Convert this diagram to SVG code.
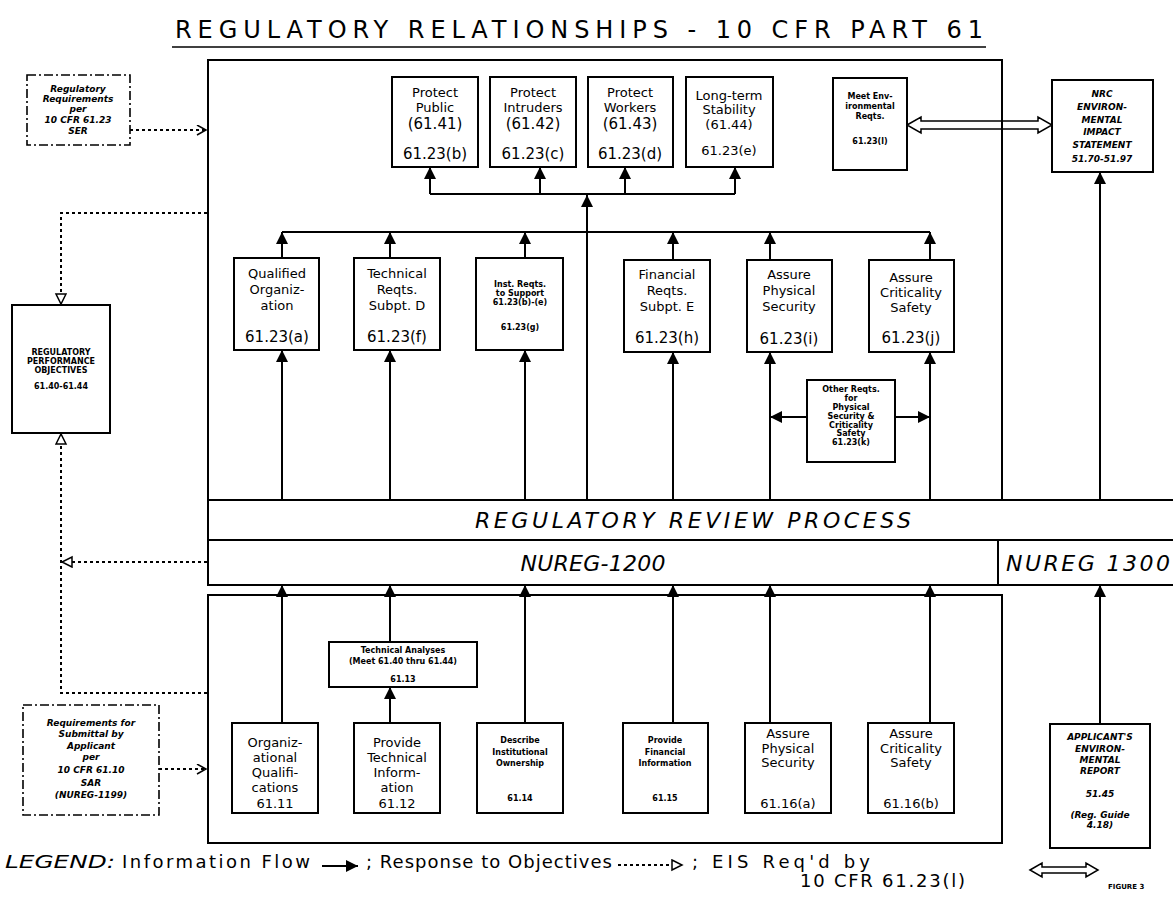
<svg xmlns="http://www.w3.org/2000/svg" width="1173" height="897" viewBox="0 0 1173 897">
<style>
.b{fill:none;stroke:#000;stroke-width:2}
.w{fill:#fff;stroke:#000;stroke-width:2}
.dd{fill:#fff;stroke:#000;stroke-width:1.6;stroke-dasharray:9 3 2 3}
.c{fill:none;stroke:#000;stroke-width:2}
.d{fill:none;stroke:#000;stroke-width:2;stroke-dasharray:3 3}
text{font-family:"DejaVu Sans","Liberation Sans",sans-serif;fill:#000}
.t{text-anchor:middle;font-size:13px}
.n{text-anchor:middle;font-size:15px}
.s{text-anchor:middle;font-size:8px;font-weight:bold}
.si{text-anchor:middle;font-size:9px;font-weight:bold;font-style:italic}
.big{font-style:italic;font-size:22px;text-anchor:middle}
.lg{font-size:18px}
</style>
<defs>
<marker id="ar" markerUnits="userSpaceOnUse" markerWidth="12" markerHeight="14" refX="12" refY="6" orient="auto">
<path d="M0,0 L12,6 L0,12 z" fill="#000"/>
</marker>
<marker id="tri" markerUnits="userSpaceOnUse" markerWidth="14" markerHeight="14" refX="11" refY="6" orient="auto">
<path d="M1,1 L11,6 L1,11 z" fill="#fff" stroke="#000" stroke-width="1.5"/>
</marker>
<marker id="ch" markerUnits="userSpaceOnUse" markerWidth="12" markerHeight="12" refX="10" refY="5" orient="auto">
<path d="M1,0 L10,5 L1,10" fill="none" stroke="#000" stroke-width="1.5"/>
</marker>
</defs>
<rect width="1173" height="897" fill="#fff"/>

<g id="title">
<text x="579" y="38" text-anchor="middle" font-size="24" textLength="808" lengthAdjust="spacing">REGULATORY RELATIONSHIPS - 10 CFR PART 61</text>
<line x1="172" y1="47" x2="986" y2="47" stroke="#000" stroke-width="1.5"/>
</g>

<g id="frames">
<rect class="b" x="208" y="60" width="794" height="440"/>
<rect class="b" x="208" y="595" width="794" height="248"/>
</g>

<g id="review">
<rect class="w" x="208" y="500" width="980" height="40"/>
<text class="big" x="693" y="528" textLength="436" lengthAdjust="spacing">REGULATORY REVIEW PROCESS</text>
</g>
<g id="nureg1200">
<rect class="w" x="208" y="540" width="790" height="45"/>
<text class="big" x="593" y="571" textLength="145" lengthAdjust="spacing">NUREG-1200</text>
</g>
<g id="nureg1300">
<rect class="w" x="998" y="540" width="190" height="45"/>
<text class="big" x="1088" y="571" textLength="164" lengthAdjust="spacing">NUREG 1300</text>
</g>

<g id="connectors">
<line class="c" x1="430" y1="194" x2="735" y2="194"/>
<line class="c" x1="430" y1="194" x2="430" y2="167" marker-end="url(#ar)"/>
<line class="c" x1="540" y1="194" x2="540" y2="167" marker-end="url(#ar)"/>
<line class="c" x1="625" y1="194" x2="625" y2="167" marker-end="url(#ar)"/>
<line class="c" x1="735" y1="194" x2="735" y2="167" marker-end="url(#ar)"/>
<line class="c" x1="587" y1="500" x2="587" y2="195" marker-end="url(#ar)"/>
<line class="c" x1="282" y1="232" x2="930" y2="232"/>
<line class="c" x1="282" y1="258" x2="282" y2="232" marker-end="url(#ar)"/>
<line class="c" x1="390" y1="258" x2="390" y2="232" marker-end="url(#ar)"/>
<line class="c" x1="525" y1="258" x2="525" y2="232" marker-end="url(#ar)"/>
<line class="c" x1="673" y1="260" x2="673" y2="232" marker-end="url(#ar)"/>
<line class="c" x1="770" y1="260" x2="770" y2="232" marker-end="url(#ar)"/>
<line class="c" x1="930" y1="260" x2="930" y2="232" marker-end="url(#ar)"/>
<line class="c" x1="282" y1="500" x2="282" y2="350" marker-end="url(#ar)"/>
<line class="c" x1="390" y1="500" x2="390" y2="350" marker-end="url(#ar)"/>
<line class="c" x1="525" y1="500" x2="525" y2="350" marker-end="url(#ar)"/>
<line class="c" x1="673" y1="500" x2="673" y2="352" marker-end="url(#ar)"/>
<line class="c" x1="770" y1="500" x2="770" y2="352" marker-end="url(#ar)"/>
<line class="c" x1="930" y1="500" x2="930" y2="352" marker-end="url(#ar)"/>
<line class="c" x1="1100" y1="500" x2="1100" y2="172" marker-end="url(#ar)"/>
<line class="c" x1="807" y1="417" x2="770" y2="417" marker-end="url(#ar)"/>
<line class="c" x1="895" y1="417" x2="930" y2="417" marker-end="url(#ar)"/>
<path d="M907,125 L921,117 L921,121 L1038,121 L1038,117 L1052,125 L1038,133 L1038,129 L921,129 L921,133 Z" fill="none" stroke="#000" stroke-width="1.5"/>
<line class="c" x1="282" y1="723" x2="282" y2="585" marker-end="url(#ar)"/>
<line class="c" x1="390" y1="642" x2="390" y2="585" marker-end="url(#ar)"/>
<line class="c" x1="390" y1="723" x2="390" y2="687" marker-end="url(#ar)"/>
<line class="c" x1="525" y1="723" x2="525" y2="585" marker-end="url(#ar)"/>
<line class="c" x1="673" y1="723" x2="673" y2="585" marker-end="url(#ar)"/>
<line class="c" x1="770" y1="723" x2="770" y2="585" marker-end="url(#ar)"/>
<line class="c" x1="930" y1="723" x2="930" y2="585" marker-end="url(#ar)"/>
<line class="c" x1="1100" y1="724" x2="1100" y2="585" marker-end="url(#ar)"/>
<line class="d" x1="130" y1="130" x2="206" y2="130" stroke-dasharray="8 4" marker-end="url(#ch)"/>
<line class="d" x1="159" y1="769" x2="206" y2="769" stroke-dasharray="8 4" marker-end="url(#ch)"/>
<path class="d" d="M207,213 L61,213 L61,304" marker-end="url(#tri)"/>
<path class="d" d="M207,693 L61,693 L61,434" marker-end="url(#tri)"/>
<line class="d" x1="207" y1="562" x2="62" y2="562" marker-end="url(#tri)"/>
</g>

<g id="reg-req">
<rect class="dd" x="27" y="75" width="103" height="70"/>
<text class="si" x="78" y="92">Regulatory</text>
<text class="si" x="78" y="102">Requirements</text>
<text class="si" x="78" y="112">per</text>
<text class="si" x="78" y="123">10 CFR 61.23</text>
<text class="si" x="78" y="134">SER</text>
</g>

<g id="perf-obj">
<rect class="w" x="12" y="305" width="98" height="128"/>
<text class="s" x="61" y="355">REGULATORY</text>
<text class="s" x="61" y="364">PERFORMANCE</text>
<text class="s" x="61" y="373">OBJECTIVES</text>
<text class="s" x="61" y="389">61.40-61.44</text>
</g>

<g id="protect-public">
<rect class="w" x="392" y="77" width="86" height="90"/>
<text class="t" x="435" y="97">Protect</text>
<text class="t" x="435" y="112">Public</text>
<text class="n" x="435" y="129">(61.41)</text>
<text class="n" x="435" y="159">61.23(b)</text>
</g>
<g id="protect-intruders">
<rect class="w" x="490" y="77" width="86" height="90"/>
<text class="t" x="533" y="97">Protect</text>
<text class="t" x="533" y="112">Intruders</text>
<text class="n" x="533" y="129">(61.42)</text>
<text class="n" x="533" y="159">61.23(c)</text>
</g>
<g id="protect-workers">
<rect class="w" x="588" y="77" width="85" height="90"/>
<text class="t" x="630" y="97">Protect</text>
<text class="t" x="630" y="112">Workers</text>
<text class="n" x="630" y="129">(61.43)</text>
<text class="n" x="630" y="159">61.23(d)</text>
</g>
<g id="long-term">
<rect class="w" x="686" y="77" width="87" height="90"/>
<text class="t" x="729" y="100" font-size="11.5">Long-term</text>
<text class="t" x="729" y="114" font-size="11.5">Stability</text>
<text class="t" x="729" y="129">(61.44)</text>
<text class="t" x="729" y="155">61.23(e)</text>
</g>
<g id="meet-env">
<rect class="w" x="833" y="78" width="74" height="92"/>
<text class="s" x="870" y="99">Meet Env-</text>
<text class="s" x="870" y="109">ironmental</text>
<text class="s" x="870" y="119">Reqts.</text>
<text class="s" x="870" y="144">61.23(l)</text>
</g>
<g id="nrc-eis">
<rect class="w" x="1052" y="80" width="101" height="92"/>
<text class="si" x="1102" y="97">NRC</text>
<text class="si" x="1102" y="110">ENVIRON-</text>
<text class="si" x="1102" y="123">MENTAL</text>
<text class="si" x="1102" y="135">IMPACT</text>
<text class="si" x="1102" y="148">STATEMENT</text>
<text class="si" x="1102" y="162">51.70-51.97</text>
</g>

<g id="qualified-org">
<rect class="w" x="234" y="258" width="85" height="92"/>
<text class="t" x="277" y="278">Qualified</text>
<text class="t" x="277" y="294">Organiz-</text>
<text class="t" x="277" y="310">ation</text>
<text class="n" x="277" y="342">61.23(a)</text>
</g>
<g id="technical-reqts">
<rect class="w" x="354" y="258" width="86" height="92"/>
<text class="t" x="397" y="278">Technical</text>
<text class="t" x="397" y="294">Reqts.</text>
<text class="t" x="397" y="310">Subpt. D</text>
<text class="n" x="397" y="342">61.23(f)</text>
</g>
<g id="inst-reqts">
<rect class="w" x="476" y="258" width="87" height="92"/>
<text class="s" x="520" y="287">Inst. Reqts.</text>
<text class="s" x="520" y="296">to Support</text>
<text class="s" x="520" y="305">61.23(b)-(e)</text>
<text class="s" x="520" y="330">61.23(g)</text>
</g>
<g id="financial-reqts">
<rect class="w" x="624" y="260" width="86" height="92"/>
<text class="t" x="667" y="279">Financial</text>
<text class="t" x="667" y="295">Reqts.</text>
<text class="t" x="667" y="311">Subpt. E</text>
<text class="n" x="667" y="343">61.23(h)</text>
</g>
<g id="physical-security">
<rect class="w" x="747" y="260" width="85" height="92"/>
<text class="t" x="789" y="279">Assure</text>
<text class="t" x="789" y="295">Physical</text>
<text class="t" x="789" y="311">Security</text>
<text class="n" x="789" y="344">61.23(i)</text>
</g>
<g id="criticality-safety">
<rect class="w" x="869" y="260" width="85" height="92"/>
<text class="t" x="911" y="282">Assure</text>
<text class="t" x="911" y="297">Criticality</text>
<text class="t" x="911" y="312">Safety</text>
<text class="n" x="911" y="343">61.23(j)</text>
</g>
<g id="other-reqts">
<rect class="w" x="807" y="380" width="88" height="82"/>
<text class="s" x="851" y="392" font-size="7">Other Reqts.</text>
<text class="s" x="851" y="401" font-size="7">for</text>
<text class="s" x="851" y="410" font-size="7">Physical</text>
<text class="s" x="851" y="419" font-size="7">Security &amp;</text>
<text class="s" x="851" y="428" font-size="7">Criticality</text>
<text class="s" x="851" y="436" font-size="7">Safety</text>
<text class="s" x="851" y="445" font-size="7">61.23(k)</text>
</g>

<g id="technical-analyses">
<rect class="w" x="329" y="642" width="148" height="45"/>
<text class="s" x="403" y="653" font-size="7.5">Technical Analyses</text>
<text class="s" x="403" y="664" font-size="7.5">(Meet 61.40 thru 61.44)</text>
<text class="s" x="403" y="682" font-size="7.5">61.13</text>
</g>

<g id="submittal-req">
<rect class="dd" x="23" y="705" width="136" height="110"/>
<text class="si" x="91" y="726">Requirements for</text>
<text class="si" x="91" y="737">Submittal by</text>
<text class="si" x="91" y="749">Applicant</text>
<text class="si" x="91" y="760">per</text>
<text class="si" x="91" y="773">10 CFR 61.10</text>
<text class="si" x="91" y="786">SAR</text>
<text class="si" x="91" y="798">(NUREG-1199)</text>
</g>

<g id="org-qual">
<rect class="w" x="232" y="723" width="86" height="90"/>
<text class="t" x="275" y="747">Organiz-</text>
<text class="t" x="275" y="762">ational</text>
<text class="t" x="275" y="777">Qualifi-</text>
<text class="t" x="275" y="792">cations</text>
<text class="t" x="275" y="808">61.11</text>
</g>
<g id="provide-tech">
<rect class="w" x="354" y="723" width="86" height="90"/>
<text class="t" x="397" y="747">Provide</text>
<text class="t" x="397" y="762">Technical</text>
<text class="t" x="397" y="777">Inform-</text>
<text class="t" x="397" y="792">ation</text>
<text class="t" x="397" y="808">61.12</text>
</g>
<g id="describe-inst">
<rect class="w" x="477" y="723" width="86" height="90"/>
<text class="s" x="520" y="743" font-size="9.5">Describe</text>
<text class="s" x="520" y="755" font-size="9.5">Institutional</text>
<text class="s" x="520" y="766" font-size="9.5">Ownership</text>
<text class="s" x="520" y="801" font-size="9.5">61.14</text>
</g>
<g id="provide-fin">
<rect class="w" x="623" y="723" width="85" height="90"/>
<text class="s" x="665" y="743" font-size="9.5">Provide</text>
<text class="s" x="665" y="755" font-size="9.5">Financial</text>
<text class="s" x="665" y="766" font-size="9.5">Information</text>
<text class="s" x="665" y="801" font-size="9.5">61.15</text>
</g>
<g id="assure-phys">
<rect class="w" x="745" y="723" width="86" height="90"/>
<text class="t" x="788" y="738">Assure</text>
<text class="t" x="788" y="753">Physical</text>
<text class="t" x="788" y="767">Security</text>
<text class="t" x="788" y="808">61.16(a)</text>
</g>
<g id="assure-crit">
<rect class="w" x="868" y="723" width="86" height="90"/>
<text class="t" x="911" y="738">Assure</text>
<text class="t" x="911" y="753">Criticality</text>
<text class="t" x="911" y="767">Safety</text>
<text class="t" x="911" y="808">61.16(b)</text>
</g>

<g id="applicant-er">
<rect class="w" x="1050" y="724" width="100" height="124"/>
<text class="si" x="1100" y="740">APPLICANT'S</text>
<text class="si" x="1100" y="752">ENVIRON-</text>
<text class="si" x="1100" y="763">MENTAL</text>
<text class="si" x="1100" y="774">REPORT</text>
<text class="si" x="1100" y="797">51.45</text>
<text class="si" x="1100" y="818">(Reg. Guide</text>
<text class="si" x="1100" y="828">4.18)</text>
</g>

<g id="legend">
<text class="lg" x="5" y="868" font-style="italic" textLength="110" lengthAdjust="spacingAndGlyphs">LEGEND:</text>
<text class="lg" x="122" y="868" textLength="188" lengthAdjust="spacing">Information Flow</text>
<line class="c" x1="322" y1="866" x2="358" y2="866" marker-end="url(#ar)"/>
<text class="lg" x="366" y="868" textLength="246" lengthAdjust="spacing">; Response to Objectives</text>
<line class="d" x1="618" y1="865" x2="682" y2="865" marker-end="url(#tri)"/>
<text class="lg" x="692" y="868" textLength="178" lengthAdjust="spacing">; EIS Req'd by</text>
<text class="lg" x="800" y="887" textLength="165" lengthAdjust="spacing">10 CFR 61.23(l)</text>
<path d="M1030,870 L1042,863 L1042,867 L1086,867 L1086,863 L1098,870 L1086,877 L1086,873 L1042,873 L1042,877 Z" fill="none" stroke="#000" stroke-width="1.5"/>
<text x="1108" y="889" font-size="7" font-weight="bold">FIGURE 3</text>
</g>
</svg>
